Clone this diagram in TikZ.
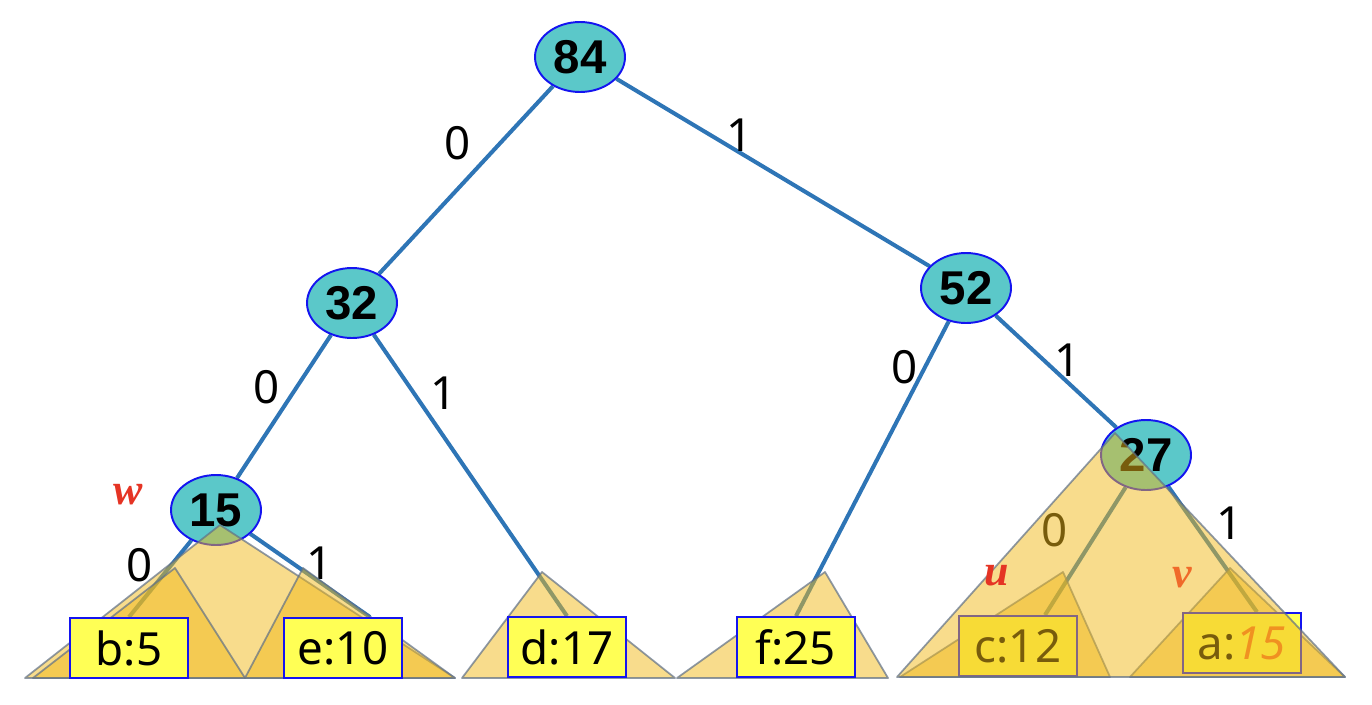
\documentclass[tikz,border=0pt]{standalone}
\usepackage{fontspec}
\setmainfont{Noto Sans}
\newfontfamily\numfont{Liberation Sans}
\newfontfamily\markfont{Liberation Serif}
\usetikzlibrary{shapes.geometric,backgrounds}
\definecolor{node-teal}{HTML}{5BC8C9}
\definecolor{node-line}{HTML}{1414F0}
\definecolor{edge-blue}{HTML}{2E75B6}
\definecolor{leaf-yellow}{HTML}{FFFF55}
\definecolor{tri-gold}{HTML}{F1B919}
\definecolor{tri-line}{HTML}{5F7088}
\definecolor{mark-red}{HTML}{E53424}
\definecolor{mark-orange}{HTML}{F06A2A}

\begin{document}
\begin{tikzpicture}[x=0.02cm, y=-0.02cm,
      every node/.style={font=\fontsize{26}{28}\selectfont},
      huff/.style={ellipse, draw=node-line, line width=1.1pt, fill=node-teal,
                   minimum width=1.8cm, minimum height=1.4cm, inner sep=0pt,
                   font=\fontsize{27}{29}\numfont\bfseries},
      leaf/.style={draw=node-line, line width=1.1pt, fill=leaf-yellow,
                   minimum width=2.36cm, minimum height=1.2cm, inner sep=0pt},
      edge/.style={draw=edge-blue, line width=2.3pt},
      tri/.style={fill=tri-gold, fill opacity=0.5, draw=tri-line,
                  draw opacity=0.7, line width=1pt, line join=round},
      tag/.style={font=\fontsize{25}{27}\markfont\bfseries\itshape}]
    \useasboundingbox (0,0) rectangle (1372,704);

    % internal nodes
    \node[huff] (n84) at (580,57) {84};
    \node[huff] (n32) at (352,303) {32};
    \node[huff] (n52) at (966,288) {52};
    \node[huff] (n15) at (216,510) {15};
    \node[huff] (n27) at (1146,455) {27};

    % bits on the edges
    \node (b84l) at (458,143) {0};
    \node (b84r) at (740,135) {1};
    \node (b32l) at (267,387) {0};
    \node (b32r) at (444,393) {1};
    \node (b52l) at (905,367) {0};
    \node (b52r) at (1068,360) {1};
    \node (b15l) at (140,565) {0};
    \node (b15r) at (320,563) {1};
    \node (b27l) at (1055,530) {0};
    \node (b27r) at (1230,523) {1};

    % subtrees
    \draw[tri] (220,525) -- (25,678) -- (455,678) -- cycle;
    \draw[tri] (175,568) -- (33,678) -- (245,678) -- cycle;
    \draw[tri] (303,568) -- (245,678) -- (455,678) -- cycle;
    \draw[tri] (542,572) -- (462,678) -- (675,678) -- cycle;
    \draw[tri] (825,572) -- (677,678) -- (888,678) -- cycle;
    \draw[tri] (1063,572) -- (900,677) -- (1110,677) -- cycle;
    \draw[tri] (1230,568) -- (1130,677) -- (1345,677) -- cycle;

    \node[leaf] (c) at (1018,646) {c:12};
    \node[leaf] (a) at (1242,643) {a:\textcolor{mark-orange}{\itshape 15}};

    \draw[tri] (1115,433) -- (897,677) -- (1345,677) -- cycle;

    % leaves
    \node[leaf] (b) at (129,648) {b:5};
    \node[leaf] (e) at (343,648) {e:10};
    \node[leaf] (d) at (567,647) {d:17};
    \node[leaf] (f) at (796,647) {f:25};

    \node[tag, text=mark-red] (w) at (128,495) {w};
    \node[tag, text=mark-red] (u) at (997,576) {u};
    \node[tag, text=mark-orange] (v) at (1182,578) {v};

    \begin{scope}[on background layer]
      \draw[edge] (n84) -- (n32);
      \draw[edge] (n84) -- (n52);
      \draw[edge] (n32) -- (n15);
      \draw[edge] (n32) -- (d.north);
      \draw[edge] (n52) -- (f.north);
      \draw[edge] (n52) -- (n27);
      \draw[edge] (n15) -- (b.north);
      \draw[edge] (n15) -- ([xshift=0.54cm]e.north);
      \draw[edge] (n27) -- ([xshift=0.54cm]c.north);
      \draw[edge] (n27) -- ([xshift=0.3cm]a.north);
    \end{scope}
  \end{tikzpicture}
\end{document}
